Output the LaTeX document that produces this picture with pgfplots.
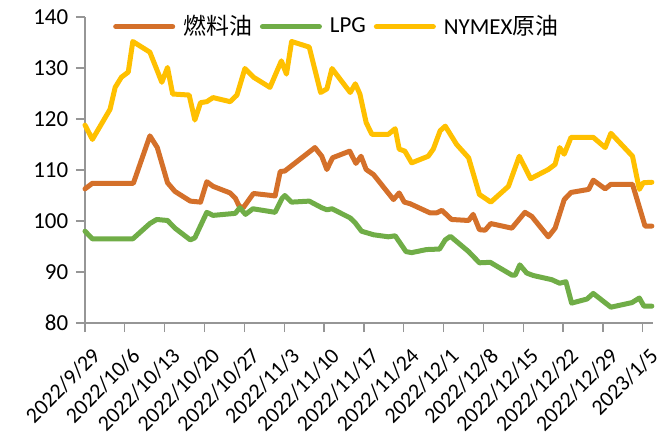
\documentclass[border=0pt]{standalone}
\usepackage{pgfplots}
\pgfplotsset{compat=1.18}
\usepackage{fontspec}
\setmainfont{Carlito}
\newfontfamily\cjk{Noto Sans CJK SC}
\definecolor{cOrange}{RGB}{212,112,42}
\definecolor{cGreen}{RGB}{112,173,71}
\definecolor{cYellow}{RGB}{255,192,0}
\definecolor{cAxis}{RGB}{150,150,150}
\begin{document}
\fontsize{23}{27}\selectfont
\begin{tikzpicture}[x=1bp,y=1bp]
\useasboundingbox (-85bp,-120bp) rectangle (574bp,323bp);
\begin{axis}[
  at={(0,0)}, anchor=origin,
  scale only axis,
  width=568bp, height=306bp,
  xmin=0, xmax=99.8, ymin=80, ymax=140,
  clip=false,
  axis x line*=bottom, axis y line*=left,
  axis line style={cAxis, line width=1.3bp, -},
  tick align=outside,
  major tick length=9bp,
  tick style={cAxis, line width=1.3bp},
  ytick={80,90,...,140},
  xtick={0,7,...,98},
  xticklabels={2022/9/29,2022/10/6,2022/10/13,2022/10/20,2022/10/27,2022/11/3,2022/11/10,2022/11/17,2022/11/24,2022/12/1,2022/12/8,2022/12/15,2022/12/22,2022/12/29,2023/1/5},
  xticklabel style={rotate=45, anchor=north east, inner sep=0pt, xshift=-6bp, yshift=-14bp, font=\fontsize{22}{26}\selectfont},
  yticklabel style={font=\fontsize{23}{27}\selectfont},
  /pgf/number format/assume math mode=true,
  legend columns=3,
  legend style={at={(0,1)}, anchor=west, xshift=28bp, yshift=-9.7bp, draw=none, fill=none, inner sep=0pt,
    font=\fontsize{23}{27}\selectfont,
    nodes={inner sep=0pt, outer sep=0pt},
    /tikz/every odd column/.style={column sep=8bp},
    /tikz/every even column/.style={column sep=8bp}},
  legend image code/.code={\draw[#1] (0bp,0bp) -- (57bp,0bp);},
  every axis plot/.append style={line width=5bp, line join=round, line cap=round},
]
\addplot[cOrange] coordinates {
(0,106.3)(1.3,107.4)(8.5,107.4)(11.4,116.7)(12.7,114.4)(14.5,107.5)(15.8,105.8)(18.5,103.9)(20.3,103.7)(21.4,107.7)(22.5,106.8)(25.5,105.5)(26.4,104.5)(27.1,102.9)(27.8,102.6)(29.6,105.4)(32.8,105.0)(33.4,104.9)(34.3,109.7)(35.1,109.8)(40.4,114.4)(41.6,112.7)(42.5,110.1)(43.5,112.4)(46.5,113.7)(47.6,111.3)(48.5,112.7)(49.4,110.1)(50.7,109.1)(54.2,104.2)(55.2,105.5)(56.1,103.7)(57.1,103.4)(60.6,101.6)(61.8,101.6)(62.7,102.1)(64.4,100.3)(67.4,100.1)(68.2,101.3)(69.3,98.3)(70.3,98.2)(71.3,99.5)(75.0,98.6)(77.3,101.7)(78.5,100.9)(81.4,96.9)(82.6,98.6)(84.2,104.2)(85.4,105.6)(88.5,106.2)(89.3,108.0)(91.4,106.3)(92.4,107.2)(96.2,107.2)(98.4,99.0)(99.6,99.0)
};
\addlegendentry{{\cjk 燃料油}}
\addplot[cGreen] coordinates {
(0,98.0)(1.3,96.5)(8.4,96.5)(11.4,99.5)(12.6,100.3)(14.5,100.1)(15.8,98.6)(18.5,96.3)(19.3,96.7)(21.4,101.7)(22.5,101.1)(26.4,101.5)(27.2,102.6)(28.2,101.3)(29.5,102.4)(33.4,101.7)(34.6,104.4)(35.1,105.0)(36.3,103.7)(39.4,103.9)(41.6,102.6)(42.5,102.2)(43.4,102.4)(46.6,100.6)(47.5,99.6)(48.6,98.0)(50.7,97.3)(53.3,96.9)(54.5,97.1)(56.4,94.0)(57.4,93.8)(60.0,94.4)(62.3,94.5)(63.3,96.3)(64.2,97.0)(67.4,94.0)(69.3,91.8)(71.2,91.9)(75.0,89.4)(75.6,89.4)(76.4,91.4)(77.6,89.8)(78.8,89.3)(82.0,88.5)(83.4,87.8)(84.5,88.1)(85.5,83.9)(88.2,84.7)(89.3,85.8)(92.4,83.1)(96.1,84.0)(97.4,84.9)(98.2,83.3)(99.6,83.3)
};
\addlegendentry{LPG}
\addplot[cYellow] coordinates {
(0,118.8)(1.3,116.0)(4.4,121.9)(5.3,126.2)(6.4,128.2)(7.6,129.2)(8.4,135.2)(11.4,133.1)(13.5,127.2)(14.5,130.1)(15.4,124.9)(18.3,124.7)(19.3,119.8)(20.3,123.2)(21.4,123.4)(22.5,124.2)(25.5,123.4)(26.7,124.7)(28.1,129.9)(29.6,128.2)(32.5,126.2)(34.5,131.4)(35.4,128.8)(36.3,135.2)(39.4,134.1)(41.4,125.2)(42.5,125.9)(43.4,129.9)(46.6,125.2)(47.5,126.9)(48.3,124.9)(49.4,119.3)(50.4,117.0)(53.3,117.0)(54.5,118.1)(55.2,114.1)(56.2,113.7)(57.4,111.4)(60.3,112.7)(61.2,114.1)(62.4,117.7)(63.3,118.6)(65.3,115.0)(67.4,112.4)(69.3,105.2)(71.3,103.7)(74.4,106.8)(76.3,112.7)(78.3,108.3)(81.4,110.1)(82.6,111.1)(83.4,114.4)(84.2,113.1)(85.4,116.4)(89.3,116.4)(91.4,114.4)(92.4,117.2)(96.2,112.7)(97.4,106.2)(98.1,107.5)(99.6,107.6)
};
\addlegendentry{NYMEX{\cjk 原油}}
\end{axis}
\end{tikzpicture}
\end{document}
